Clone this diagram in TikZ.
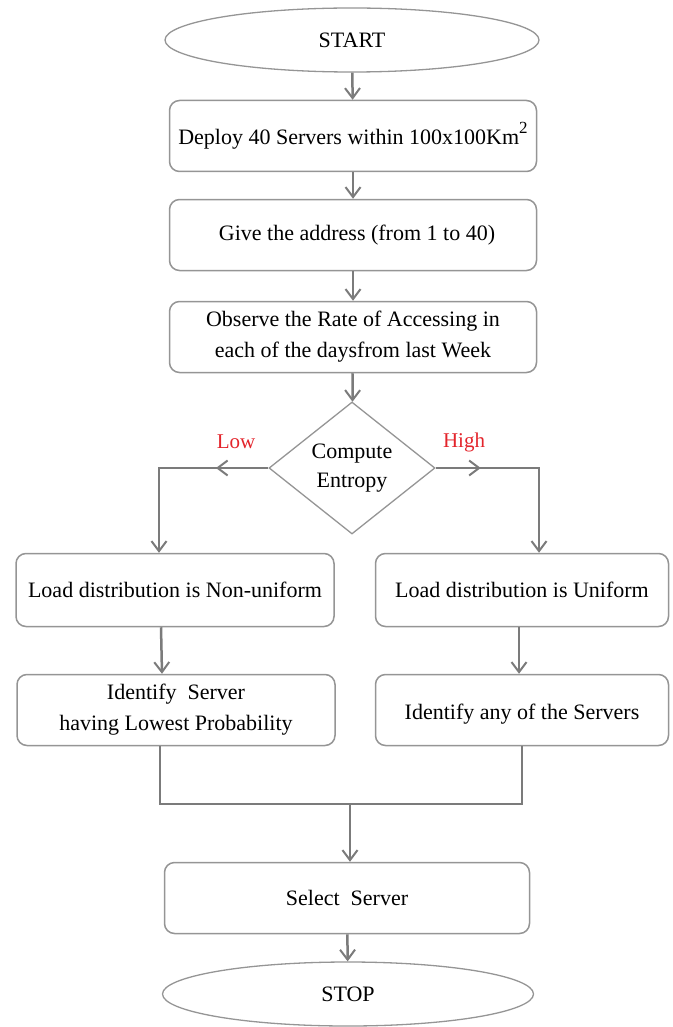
\documentclass[tikz,border=0pt]{standalone}
\usepackage{fontspec}
\setmainfont{Liberation Serif}
\usepackage{xcolor}
\usetikzlibrary{shapes.geometric,arrows.meta,decorations.markings}
\definecolor{LineGray}{HTML}{7B7B7B}
\definecolor{BoxGray}{HTML}{959595}
\definecolor{LabelRed}{HTML}{E3242B}
\tikzset{barb/.tip={Straight Barb[length=10pt, width=15pt, line width=2pt]}}

\begin{document}
\begin{tikzpicture}[
  x=1pt, y=-1pt,
  box/.style={rectangle, rounded corners=10pt, draw=BoxGray, line width=1.5pt, align=center, minimum height=71pt, minimum width=367pt, fill=white, font=\fontsize{22}{31}\selectfont},
  term/.style={ellipse, draw=BoxGray, line width=1.3pt, minimum width=374pt, minimum height=64pt, font=\fontsize{22}{27}\selectfont},
  decision/.style={diamond, draw=BoxGray, line width=1.3pt, aspect=1.26, inner sep=0pt, minimum width=166pt, minimum height=132pt, align=center, font=\fontsize{22}{29}\selectfont},
  line/.style={line width=2.5pt, draw=LineGray},
  flow/.style={line, -{barb}},
  branch/.style={text=LabelRed, font=\fontsize{21}{25}\selectfont}
]
\useasboundingbox (0,0) rectangle (672,1027);
\node[term] (start) at (352,40) {START};
\node[box] (deploy) at (353,136) {Deploy 40 Servers within 100x100Km\raisebox{0.5em}{\fontsize{17}{17}\selectfont 2}};
\node[box] (address) at (353,235) {\hspace{8pt}Give the address (from 1 to 40)};
\node[box] (observe) at (353,337) {Observe the Rate of Accessing in\\each of the daysfrom last Week};
\node[decision] (entropy) at (352,468) {Compute\\Entropy};
\node[branch] (low) at (236,442) {Low};
\node[branch] (high) at (464,442) {High};
\node[box, minimum width=318pt, minimum height=73pt] (nonuni) at (175,590) {Load distribution is Non-uniform};
\node[box, minimum width=293pt, minimum height=73pt] (uni) at (522,590) {Load distribution is Uniform};
\node[box, minimum width=318pt] (idlow) at (176,710) {Identify~ Server\\having Lowest Probability};
\node[box, minimum width=293pt] (idany) at (522,710) {\\[-8pt]Identify any of the Servers};
\node[box, minimum width=365pt] (select) at (347,898) {Select~ Server};
\node[term, minimum width=371pt] (stop) at (348,994) {STOP};
\coordinate (lowturn) at (159,468);
\coordinate (highturn) at (539,468);
\coordinate (jl) at (160,804);
\coordinate (jr) at (522,804);
\coordinate (join) at (350,804);
% main column
\draw[flow] (start) -- (deploy);
\draw[flow] (deploy) -- (address);
\draw[flow] (address) -- (observe);
\draw[flow] (observe) -- (entropy);
% branches
\draw[flow, postaction={decorate}, decoration={markings, mark=at position 0.27 with {\arrow{barb}}}]
  (entropy.west) -- (lowturn) -- (lowturn |- nonuni.north);
\draw[flow, postaction={decorate}, decoration={markings, mark=at position 0.24 with {\arrow{barb}}}]
  (entropy.east) -- (highturn) -- (highturn |- uni.north);
\draw[flow] ([xshift=-14pt]nonuni.south) -- ([xshift=-14pt]idlow.north);
\draw[flow] ([xshift=-3pt]uni.south) -- ([xshift=-3pt]idany.north);
% merge
\draw[line] (idlow.south -| jl) -- (jl) -- (jr) -- (idany.south -| jr);
\draw[flow] (join) -- (join |- select.north);
\draw[flow] (select) -- (stop);
\end{tikzpicture}
\end{document}
